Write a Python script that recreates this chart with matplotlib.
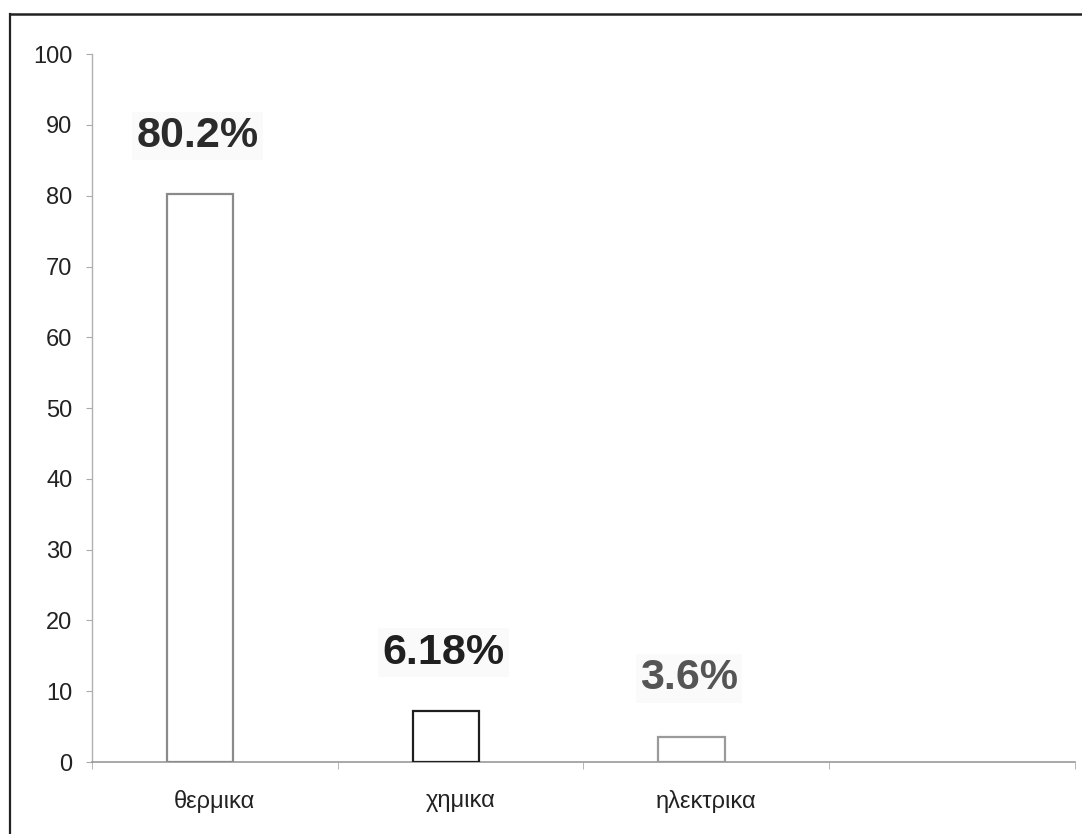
import numpy as np
import matplotlib.pyplot as plt
from matplotlib.lines import Line2D

# Data
categories = ['θερμικα', 'χημικα', 'ηλεκτρικα', '']
values = [80.2, 7.2, 3.6, 0]
labels = ['80.2%', '6.18%', '3.6%', '']
y_ticks = list(range(0, 101, 10))

plt.rcParams['font.family'] = ['Liberation Sans', 'DejaVu Sans']

fig = plt.figure(figsize=(10.82, 8.34), dpi=100)
ax = fig.add_axes([0.085, 0.0863, 0.9085, 0.8487])

x = np.arange(len(categories))
edge_colors = ['#8a8a8a', '#1e1e1e', '#9a9a9a']
ax.bar(x[:3] - 0.06, values[:3], width=0.27, color='white',
       edgecolor=edge_colors, linewidth=1.6, zorder=3)

label_colors = ['#2b2b2b', '#202020', '#555555']
for xi, v, lab, c in zip(x[:3], values[:3], labels[:3], label_colors):
    ax.annotate(lab, (xi - 0.07, v), xytext=(0, 42), textcoords='offset points',
                ha='center', va='center', fontsize=31, fontweight='bold',
                color=c, zorder=4,
                bbox=dict(boxstyle='square,pad=0.1', facecolor='#fafafa',
                          edgecolor='none'))

ax.set_xlim(-0.5, len(categories) - 0.5)
ax.set_ylim(0, 100)
ax.set_yticks(y_ticks)
ax.set_yticklabels([str(t) for t in y_ticks], fontsize=17, color='#222222')
ax.tick_params(axis='y', length=4, color='#aaaaaa', pad=10)

ax.set_xticks(x)
ax.set_xticklabels(categories, fontsize=17, color='#222222')
ax.tick_params(axis='x', length=0, pad=20)
ax.set_xticks(np.arange(-0.5, len(categories)), minor=True)
ax.tick_params(axis='x', which='minor', length=5, color='#aaaaaa')

for side in ['top', 'right']:
    ax.spines[side].set_visible(False)
ax.spines['left'].set_color('#b0b0b0')
ax.spines['bottom'].set_color('#999999')
ax.spines['left'].set_linewidth(1.0)
ax.spines['bottom'].set_linewidth(1.2)

# outer frame (left and top edges visible)
fig.add_artist(Line2D([0.0092, 0.0092], [0, 0.983], color='#222222',
                      linewidth=1.6, transform=fig.transFigure))
fig.add_artist(Line2D([0.0092, 1.0], [0.983, 0.983], color='#222222',
                      linewidth=1.8, transform=fig.transFigure))

fig.savefig('out.png', dpi=100)
